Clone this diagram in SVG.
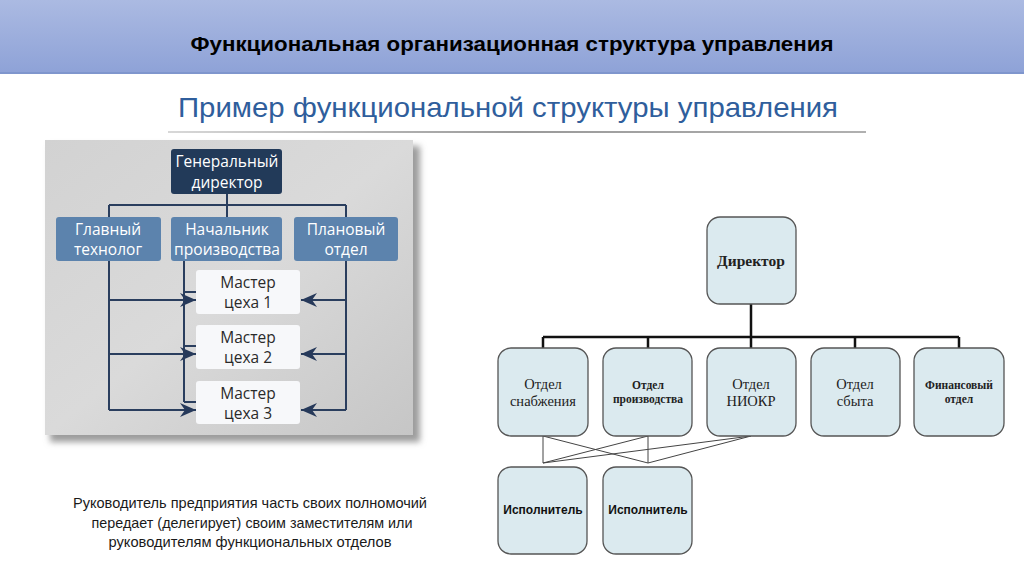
<svg xmlns="http://www.w3.org/2000/svg" width="1024" height="574" viewBox="0 0 1024 574">
<defs>
<linearGradient id="hdr" x1="0" y1="0" x2="0" y2="1"><stop offset="0" stop-color="#abbae2"/><stop offset="1" stop-color="#8ea2d7"/></linearGradient>
<linearGradient id="panel" x1="0" y1="0" x2="1" y2="1"><stop offset="0" stop-color="#d2d2d2"/><stop offset="0.5" stop-color="#dadada"/><stop offset="1" stop-color="#c6c6c6"/></linearGradient>
<linearGradient id="rule" x1="0" y1="0" x2="1" y2="0"><stop offset="0" stop-color="#d8d8d8"/><stop offset="0.5" stop-color="#9a9a9a"/><stop offset="1" stop-color="#b0b0b0"/></linearGradient>
<filter id="blur" x="-10%" y="-10%" width="120%" height="120%"><feGaussianBlur stdDeviation="3"/></filter>
<marker id="chev" viewBox="0 0 16 14" refX="16" refY="7" markerWidth="16" markerHeight="14" markerUnits="userSpaceOnUse" orient="auto">
<path d="M0,0 L16,7 L0,14 L5,7 Z" fill="#26395a"/>
</marker>
<style>
.t1{font-family:"Open Sans","Liberation Sans",sans-serif;font-size:15.5px;text-anchor:middle}
.w{fill:#ffffff}
.d{fill:#2a2a2a}
.ln{stroke:#2a3e5e;stroke-width:2;fill:none}
.rb{fill:#dbeaef;stroke:#555;stroke-width:1.3}
.ser{font-family:"Liberation Serif","Times New Roman",serif;text-anchor:middle;fill:#222}
.thick{stroke:#111;stroke-width:2.5;fill:none}
.thin{stroke:#444;stroke-width:1;fill:none}
.sans{font-family:"Liberation Sans",Arial,sans-serif}
</style>
</defs>
<rect width="1024" height="574" fill="#ffffff"/>
<g id="header">
<rect x="0" y="0" width="1024" height="73" fill="url(#hdr)"/>
<rect x="0" y="72" width="1024" height="2" fill="#7f96cd"/>
<text x="512" y="51" class="sans" font-size="21" font-weight="bold" text-anchor="middle" fill="#000" textLength="643" lengthAdjust="spacingAndGlyphs">Функциональная организационная структура управления</text>
</g>
<g id="subtitle">
<text x="508" y="117" class="sans" font-size="28" text-anchor="middle" fill="#2f5e9c" textLength="660" lengthAdjust="spacingAndGlyphs">Пример функциональной структуры управления</text>
<rect x="168" y="131" width="698" height="2" fill="url(#rule)"/>
</g>
<g id="panel-bg">
<rect x="50" y="146" width="370" height="296" fill="#9c9c9c" filter="url(#blur)"/>
<rect x="45" y="140" width="368" height="295" fill="url(#panel)"/>
</g>
<g id="left-connectors">
<path class="ln" d="M227,194 V205 M109,205 H346 M109,205 V217 M227,205 V217 M346,205 V217"/>
<path class="ln" d="M109,261 V410 M346,261 V410 M184,261 V402 M184,292 H196 M184,346 H196 M184,402 H196"/>
<path class="ln" d="M109,300 H196" marker-end="url(#chev)"/>
<path class="ln" d="M109,354 H196" marker-end="url(#chev)"/>
<path class="ln" d="M109,410 H196" marker-end="url(#chev)"/>
<path class="ln" d="M346,300 H301" marker-end="url(#chev)"/>
<path class="ln" d="M346,354 H301" marker-end="url(#chev)"/>
<path class="ln" d="M346,410 H301" marker-end="url(#chev)"/>
</g>
<g id="gen-director">
<rect x="171" y="149" width="111" height="45" rx="3" fill="#223a59"/>
<text class="t1 w" x="227" y="167">Генеральный</text>
<text class="t1 w" x="227" y="188">директор</text>
</g>
<g id="chief-technologist">
<rect x="56" y="217" width="105" height="44" rx="3" fill="#5c83ad"/>
<text class="t1 w" x="108" y="235">Главный</text>
<text class="t1 w" x="108" y="255">технолог</text>
</g>
<g id="production-head">
<rect x="171" y="217" width="111" height="44" rx="3" fill="#5c83ad"/>
<text class="t1 w" x="227" y="235">Начальник</text>
<text class="t1 w" x="227" y="255" textLength="106" lengthAdjust="spacingAndGlyphs">производства</text>
</g>
<g id="planning-dept">
<rect x="294" y="217" width="104" height="44" rx="3" fill="#5c83ad"/>
<text class="t1 w" x="346" y="235">Плановый</text>
<text class="t1 w" x="346" y="255">отдел</text>
</g>
<g id="master1">
<rect x="196" y="270" width="104" height="44" rx="3" fill="#f7f8fa"/>
<text class="t1 d" x="248" y="288">Мастер</text>
<text class="t1 d" x="248" y="308">цеха 1</text>
</g>
<g id="master2">
<rect x="196" y="325" width="104" height="44" rx="3" fill="#f7f8fa"/>
<text class="t1 d" x="248" y="343">Мастер</text>
<text class="t1 d" x="248" y="363">цеха 2</text>
</g>
<g id="master3">
<rect x="196" y="381" width="104" height="43" rx="3" fill="#f7f8fa"/>
<text class="t1 d" x="248" y="399">Мастер</text>
<text class="t1 d" x="248" y="419">цеха 3</text>
</g>
<g id="caption" class="sans" font-size="15" text-anchor="middle" fill="#1a1a1a">
<text x="250" y="508" textLength="354" lengthAdjust="spacingAndGlyphs">Руководитель предприятия часть своих полномочий</text>
<text x="252" y="528" textLength="321" lengthAdjust="spacingAndGlyphs">передает (делегирует) своим заместителям или</text>
<text x="250" y="547" textLength="283" lengthAdjust="spacingAndGlyphs">руководителям функциональных отделов</text>
</g>
<g id="right-connectors">
<path class="thick" d="M751,304 V337 M543,337 H959 M543,337 V348 M648,337 V348 M751,337 V348 M855,337 V348 M959,337 V348"/>
<path class="thin" d="M543,436 V463 M648,436 V463 M543,436 L648,463 M648,436 L543,463 M751,436 L543,463 M751,436 L648,463"/>
</g>
<g id="director">
<rect class="rb" x="707" y="217" width="89" height="87" rx="13"/>
<text class="ser" x="751" y="266" font-size="15.5" font-weight="bold">Директор</text>
</g>
<g id="supply">
<rect class="rb" x="498" y="348" width="90" height="88" rx="13"/>
<text class="ser" x="543" y="389" font-size="14.5">Отдел</text>
<text class="ser" x="543" y="406" font-size="14.5">снабжения</text>
</g>
<g id="production">
<rect class="rb" x="603" y="348" width="89" height="88" rx="13"/>
<text class="ser" x="648" y="389" font-size="11.5" font-weight="bold">Отдел</text>
<text class="ser" x="648" y="403" font-size="11.5" font-weight="bold">производства</text>
</g>
<g id="niokr">
<rect class="rb" x="707" y="348" width="89" height="88" rx="13"/>
<text class="ser" x="751" y="389" font-size="14.5">Отдел</text>
<text class="ser" x="751" y="406" font-size="14.5">НИОКР</text>
</g>
<g id="sales">
<rect class="rb" x="811" y="348" width="89" height="88" rx="13"/>
<text class="ser" x="855" y="389" font-size="14.5">Отдел</text>
<text class="ser" x="855" y="406" font-size="14.5">сбыта</text>
</g>
<g id="finance">
<rect class="rb" x="914" y="348" width="90" height="88" rx="13"/>
<text class="ser" x="959" y="389" font-size="11.5" font-weight="bold">Финансовый</text>
<text class="ser" x="959" y="403" font-size="11.5" font-weight="bold">отдел</text>
</g>
<g id="executor1">
<rect class="rb" x="498" y="467" width="89" height="87" rx="13"/>
<text class="sans" x="543" y="514" font-size="12" font-weight="bold" text-anchor="middle" fill="#111">Исполнитель</text>
</g>
<g id="executor2">
<rect class="rb" x="603" y="467" width="89" height="87" rx="13"/>
<text class="sans" x="648" y="514" font-size="12" font-weight="bold" text-anchor="middle" fill="#111">Исполнитель</text>
</g>
</svg>
